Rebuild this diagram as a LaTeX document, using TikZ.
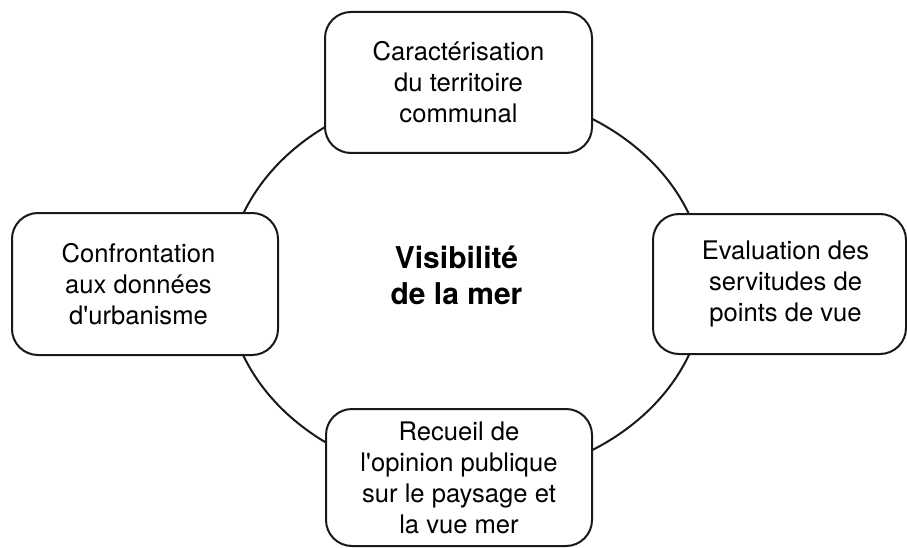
\documentclass[tikz,border=0pt]{standalone}
\usepackage{fontspec}
\setmainfont{TeX Gyre Heros}
\begin{document}
\begin{tikzpicture}[x=1pt,y=-1pt,
  stagebox/.style={draw=black!90, line width=2pt, fill=white, rounded corners=26pt,
    align=center, inner sep=0pt, font=\fontsize{25.6}{31}\selectfont},
  ring/.style={draw=black!90, line width=2pt},
  title/.style={align=center, font=\fontsize{30}{36}\selectfont\bfseries}]
\useasboundingbox (0,0) rectangle (907,548);
\coordinate (c) at (466,284.5);
\draw[ring] (c) ellipse [x radius=239, y radius=195];
\node[stagebox, minimum width=267pt, minimum height=141pt] (top) at (458.5,82.5)
  {Caractérisation\\du territoire\\communal};
\node[stagebox, minimum width=266pt, minimum height=142pt] (left) at (145,284)
  {\hspace*{-13pt}Confrontation\\\hspace*{-13pt}aux données\\\hspace*{-13pt}d\textquotesingle urbanisme};
\node[stagebox, minimum width=253pt, minimum height=140pt] (right) at (779.5,284)
  {\hspace*{12pt}Evaluation des\\\hspace*{12pt}servitudes de\\\hspace*{12pt}points de vue};
\node[stagebox, minimum width=266pt, minimum height=137pt] (bottom) at (459,477.5)
  {Recueil de\\l\textquotesingle opinion publique\\sur le paysage et\\la vue mer};
\node[title] (centre) at (456.5,275) {Visibilité\\de la mer};
\end{tikzpicture}
\end{document}
